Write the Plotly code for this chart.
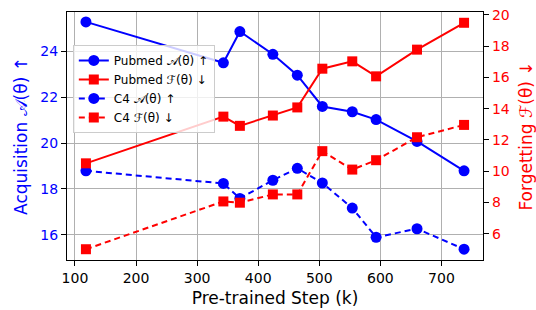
import plotly.graph_objects as go

steps = [118, 343, 370, 424, 464, 505, 554, 593, 660, 737]
pubmed_acq = [25.27, 23.49, 24.85, 23.86, 22.95, 21.59, 21.36, 21.02, 20.07, 18.79]
pubmed_fgt = [10.5, 13.49, 12.9, 13.56, 14.08, 16.56, 17.03, 16.07, 17.78, 19.5]
c4_acq = [18.79, 18.24, 17.59, 18.38, 18.9, 18.26, 17.17, 15.9, 16.27, 15.38]
c4_fgt = [5.0, 8.06, 7.98, 8.51, 8.51, 11.28, 10.1, 10.7, 12.17, 12.96]

BLUE = "#0000ff"
RED = "#ff0000"
FONT = "DejaVu Sans"

fig = go.Figure()
fig.add_trace(go.Scatter(x=steps, y=pubmed_acq, name="Pubmed 𝒜(θ) ↑", mode="lines+markers",
                         line=dict(color=BLUE, width=2), marker=dict(symbol="circle", size=11, color=BLUE),
                         yaxis="y"))
fig.add_trace(go.Scatter(x=steps, y=pubmed_fgt, name="Pubmed ℱ(θ) ↓", mode="lines+markers",
                         line=dict(color=RED, width=2), marker=dict(symbol="square", size=10, color=RED),
                         yaxis="y2"))
fig.add_trace(go.Scatter(x=steps, y=c4_acq, name="C4 𝒜(θ) ↑", mode="lines+markers",
                         line=dict(color=BLUE, width=2, dash="6px,4px"), marker=dict(symbol="circle", size=11, color=BLUE),
                         yaxis="y"))
fig.add_trace(go.Scatter(x=steps, y=c4_fgt, name="C4 ℱ(θ) ↓", mode="lines+markers",
                         line=dict(color=RED, width=2, dash="6px,4px"), marker=dict(symbol="square", size=10, color=RED),
                         yaxis="y2"))

fig.update_layout(
    width=536, height=310,
    margin=dict(l=67, r=53, t=12, b=50, autoexpand=False),
    paper_bgcolor="white", plot_bgcolor="white",
    font=dict(family=FONT, size=14, color="black"),
    showlegend=True,
    legend=dict(x=0.014, y=0.867, xanchor="left", yanchor="top",
                bgcolor="rgba(255,255,255,0.8)", bordercolor="#cccccc", borderwidth=1,
                font=dict(size=12, family=FONT), tracegroupgap=0),
    xaxis=dict(range=[87, 768], dtick=100, tick0=0, showgrid=True, gridcolor="#b0b0b0", gridwidth=1,
               showline=True, linecolor="black", linewidth=1.2, mirror=True,
               ticks="outside", ticklen=5, tickcolor="black", zeroline=False, automargin=False,
               tickfont=dict(size=14),
               title=dict(text="Pre-trained Step (k)", font=dict(size=17), standoff=7)),
    yaxis=dict(range=[14.91, 25.7], dtick=2, showgrid=True, gridcolor="#b0b0b0", gridwidth=1,
               showline=True, linecolor="black", linewidth=1.2,
               ticks="outside", ticklen=5, tickcolor="black", zeroline=False, automargin=False,
               tickfont=dict(size=14, color=BLUE),
               title=dict(text="Acquisition 𝒜(θ) ↑", font=dict(size=17, color=BLUE), standoff=8)),
    yaxis2=dict(range=[4.31, 20.19], dtick=2, overlaying="y", side="right", showgrid=False,
                showline=True, linecolor="black", linewidth=1.2,
                ticks="outside", ticklen=5, tickcolor="black", zeroline=False, automargin=False,
                tickfont=dict(size=14, color=RED),
                title=dict(text="Forgetting ℱ(θ) ↓", font=dict(size=17, color=RED), standoff=11)),
)

fig.write_html("out.html", config={"displayModeBar": False},
               post_script="document.body.style.margin='0';document.body.style.overflow='hidden';")
